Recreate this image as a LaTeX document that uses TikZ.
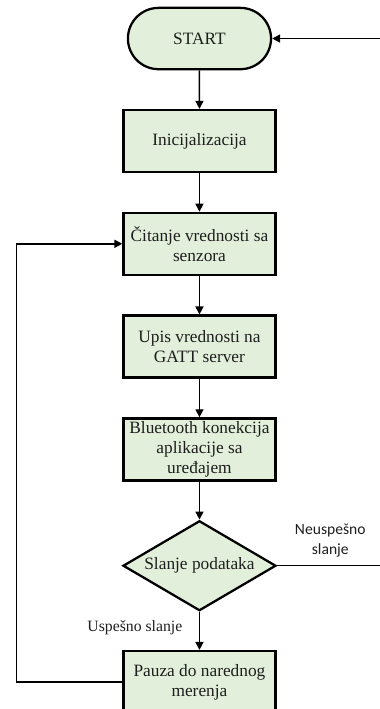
\documentclass[tikz,border=0pt]{standalone}
\usepackage{fontspec}
\setmainfont{Liberation Serif}
\newfontfamily\labelfont{Carlito}
\usepackage{tikz}
\usetikzlibrary{shapes.misc,shapes.geometric,arrows.meta}
\definecolor{boxfill}{RGB}{226,239,218}
\definecolor{boxtext}{RGB}{30,30,30}

\begin{document}
\begin{tikzpicture}[
   font=\rmfamily,
   every matrix/.style={ampersand replacement=\&,row sep=28.9pt},
   term/.style={draw,line width=1.7pt,fill=boxfill,rounded rectangle,text=boxtext,
      minimum width=114pt,minimum height=46pt,font=\rmfamily\fontsize{13}{15.6}\selectfont},
   proc/.style={draw,line width=1.7pt,fill=boxfill,rectangle,text=boxtext,align=center,inner sep=2pt,
      minimum width=114pt,minimum height=46.5pt,font=\rmfamily\fontsize{13}{15}\selectfont},
   decision/.style={draw,line width=1.7pt,fill=boxfill,diamond,inner sep=0pt,
      minimum width=114.75pt,minimum height=67.5pt},
   dtext/.style={text=boxtext,font=\rmfamily\fontsize{13}{15.6}\selectfont},
   to/.style={-{Triangle[length=6pt,width=6pt]},line width=1.1pt},
   lbl/.style={text=boxtext,align=center}]
\matrix[overlay]{
\node[term] (start) {START};\\
\node[proc] (init) {Inicijalizacija};\\
\node[proc] (citanje) {Čitanje vrednosti sa\\senzora};\\
\node[proc] (upis) {Upis vrednosti na\\GATT server};\\
\node[proc] (bt) {Bluetooth konekcija\\aplikacije sa\\uređajem};\\
\node[decision,label={[dtext]center:Slanje podataka}] (odluka) {};\\
\node[proc] (pauza) {Pauza do narednog\\merenja};\\
};
\useasboundingbox (start.center) ++(-149.6pt,28.9pt) rectangle ++(284.25pt,-531.75pt);
\path (start.center) ++(138pt,0) coordinate (redge);
\draw[to] (start) -- (init);
\draw[to] (init) -- (citanje);
\draw[to] (citanje) -- (upis);
\draw[to] (upis) -- (bt);
\draw[to] (bt) -- (odluka);
\draw[to] (odluka) -- node[lbl,left,pos=0.42,xshift=-9pt,font=\rmfamily\fontsize{11.8}{14}\selectfont] {Uspešno slanje} (pauza);
\draw[to] (pauza.west) -- ++(-79.5pt,0) |- (citanje.west);
\draw[to] (odluka.east) -- node[lbl,above,inner sep=2pt,yshift=4pt,font=\labelfont\fontsize{11.7}{14.5}\selectfont] {Neuspešno\\slanje} (odluka.east -| redge) |- (start.east);
\end{tikzpicture}
\end{document}
